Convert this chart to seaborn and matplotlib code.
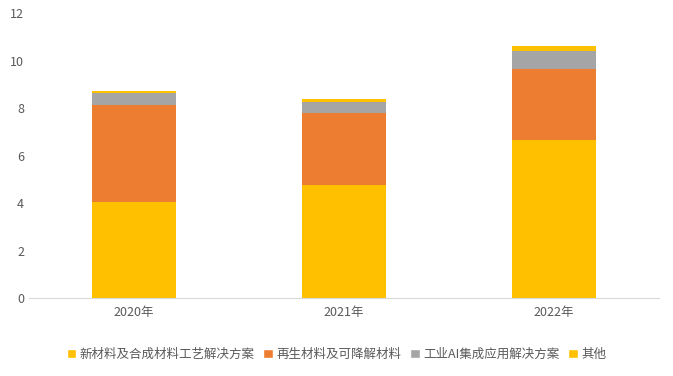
import numpy as np
import pandas as pd
import seaborn as sns
import matplotlib.pyplot as plt
from matplotlib.patches import Patch

# Data
years = ["2020年", "2021年", "2022年"]
series_names = ["新材料及合成材料工艺解决方案", "再生材料及可降解材料", "工业AI集成应用解决方案", "其他"]
new_materials = [4.05, 4.76, 6.65]
recycled = [4.06, 3.04, 2.98]
industrial_ai = [0.52, 0.47, 0.78]
others = [0.10, 0.11, 0.20]
colors = ["#FFC000", "#ED7D31", "#A5A5A5", "#FFC000"]

sns.set_style("white")
plt.rcParams["font.family"] = ["Noto Sans CJK SC", "DejaVu Sans"]

df = pd.DataFrame({"year": years})
stack = [new_materials, recycled, industrial_ai, others]
cum = np.cumsum(np.array(stack), axis=0)

fig = plt.figure(figsize=(6.73, 3.76), dpi=100)
ax = fig.add_axes([0.043, 0.2074, 0.936, 0.758])

# Draw from the top of the stack down so lower segments cover upper ones
for i in range(len(stack) - 1, -1, -1):
    df["v"] = cum[i]
    sns.barplot(data=df, x="year", y="v", color=colors[i], width=0.4,
                saturation=1, errorbar=None, linewidth=0, ax=ax)

ax.set_ylim(0, 12)
ax.set_yticks(range(0, 13, 2))
ax.set_xlabel("")
ax.set_ylabel("")
for s in ["top", "right", "left"]:
    ax.spines[s].set_visible(False)
ax.spines["bottom"].set_color("#D9D9D9")
ax.tick_params(axis="both", length=0, labelsize=9, colors="#595959")
ax.tick_params(axis="x", pad=6)

handles = [Patch(facecolor=c, label=n) for c, n in zip(colors, series_names)]
fig.legend(handles=handles, loc="center", bbox_to_anchor=(0.5, 0.058), ncol=4,
           frameon=False, fontsize=9, handlelength=0.75, handleheight=0.75,
           handletextpad=0.3, columnspacing=0.7, labelcolor="#595959")

fig.savefig("out.png", dpi=100)
